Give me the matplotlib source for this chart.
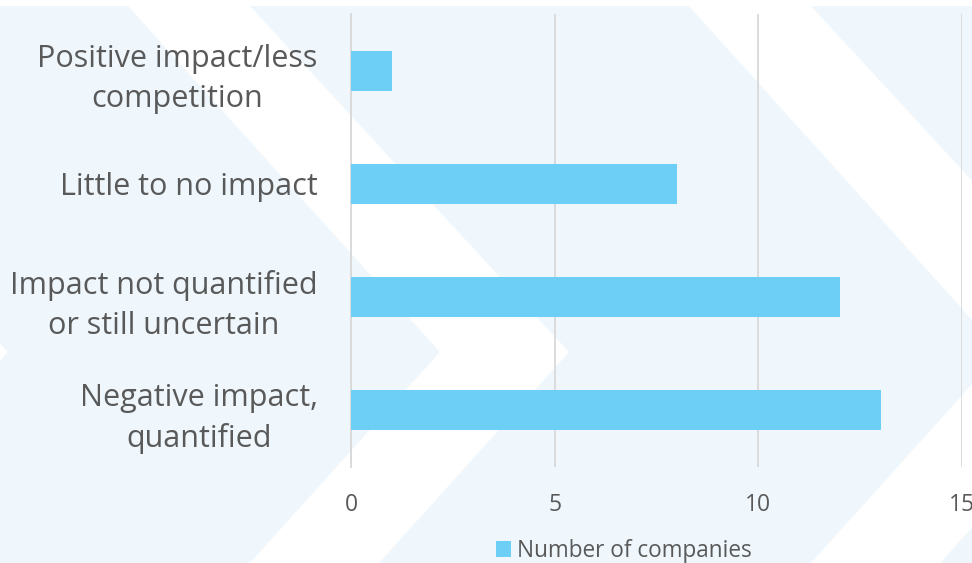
import matplotlib
matplotlib.use("Agg")
import matplotlib.pyplot as plt
from matplotlib.patches import Polygon, Rectangle

categories = ["Positive impact/less\ncompetition", "Little to no impact",
              "Impact not quantified\nor still uncertain", "Negative impact,\nquantified"]
values = [1, 8, 12, 13]
series_name = "Number of companies"
x_ticks = [0, 5, 10, 15]

W, H = 972, 563
plt.rcParams['font.family'] = ['Open Sans', 'DejaVu Sans']
fig = plt.figure(figsize=(W / 100, H / 100), dpi=100)
fig.patch.set_facecolor('white')

# background decoration (pixel coordinates)
bg = fig.add_axes([0, 0, 1, 1], zorder=-5)
bg.set_xlim(0, W)
bg.set_ylim(H, 0)
bg.axis('off')
bg.add_patch(Rectangle((0, 6), W, H - 6, facecolor='#EFF7FC', edgecolor='none'))
for s in (-561, 0, 561):
    pts = [(128 + s, 6), (250 + s, 6), (569 + s, 352), (379 + s, 563), (250 + s, 563), (440 + s, 352)]
    bg.add_patch(Polygon(pts, closed=True, facecolor='white', edgecolor='none'))

left, right = 351 / W, 962 / W
top, bottom = 1 - 14 / H, 1 - 467 / H
ax = fig.add_axes([left, bottom, right - left, top - bottom])
ax.set_facecolor('none')

ypos = list(range(len(categories)))
bars = ax.barh(ypos, values, height=0.355, color='#6DCFF6', edgecolor='none',
               label=series_name, zorder=3)
ax.set_ylim(len(categories) - 0.5, -0.5)
ax.set_xlim(0, 15)
ax.set_xticks(x_ticks)
ax.set_xticklabels([str(t) for t in x_ticks])
ax.set_yticks(ypos)
ax.set_yticklabels(categories)
for t in ax.get_yticklabels():
    t.set_ha('right')
    t.set_multialignment('center')
    t.set_linespacing(1.42)
ax.tick_params(axis='y', length=0, pad=24, labelsize=22, labelcolor='#595959')
ax.tick_params(axis='x', length=0, pad=19, labelsize=16.5, labelcolor='#595959')
ax.xaxis.grid(True, color='#D9D9D9', linewidth=1.3, zorder=0)
ax.set_axisbelow(True)
for sp in ('top', 'right', 'bottom'):
    ax.spines[sp].set_visible(False)
ax.spines['left'].set_color('#D9D9D9')
ax.spines['left'].set_linewidth(1.3)

fig.legend(handles=[bars], labels=[series_name], loc='center',
           bbox_to_anchor=(624 / W, 1 - 551 / H), frameon=False,
           fontsize=16.3, labelcolor='#595959', handlelength=0.65, handleheight=0.65,
           handletextpad=0.3)

fig.savefig('out.png', dpi=100, facecolor='white')
